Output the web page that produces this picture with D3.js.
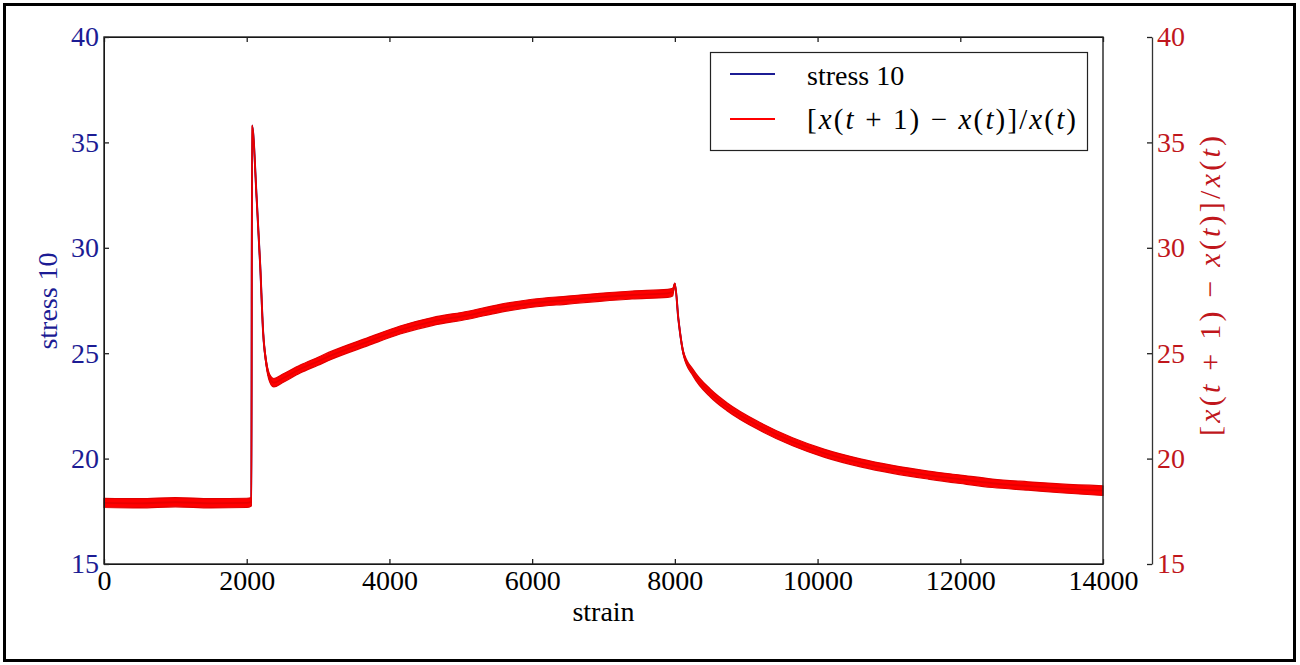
<!DOCTYPE html>
<html>
<head>
<meta charset="utf-8">
<script src="https://cdn.jsdelivr.net/npm/d3@7"></script>
<style>
  body { margin: 0; background: #fff; }
  svg { display: block; }
  text { font-family: "Liberation Serif", "Times New Roman", serif; }
</style>
</head>
<body>
<div id="chart"></div>
<script>
// values (band centre of the noisy trace)
const strain = [0, 500, 1000, 1500, 2000, 2065, 2075, 2140, 2190, 2230, 2280, 2340, 2380, 2500,
  2750, 3000, 3200, 3700, 4150, 4600, 5100, 5550, 6000, 6500, 6950, 7400, 7900, 7970, 8000,
  8050, 8120, 8260, 8500, 8730, 9200, 9650, 10100, 10600, 11050, 11550, 12000, 12450, 12950,
  13400, 14000];
const stress = [17.9, 17.88, 17.93, 17.88, 17.9, 17.95, 35.8, 32.3, 29.1, 26.0, 24.4, 23.7, 23.6, 23.8,
  24.25, 24.62, 24.92, 25.55, 26.1, 26.5, 26.8, 27.13, 27.37, 27.52, 27.65, 27.76, 27.84, 27.9, 28.3,
  26.6, 25.0, 24.05, 23.1, 22.46, 21.51, 20.8, 20.25, 19.8, 19.49, 19.22, 19.02, 18.83, 18.7,
  18.59, 18.48];
// half thickness of the noise band
const bandHalf = [0.22, 0.22, 0.22, 0.22, 0.22, 0.2, 0.02, 0.05, 0.08, 0.12, 0.16, 0.19, 0.2, 0.2,
  0.19, 0.19, 0.19, 0.19, 0.19, 0.19, 0.19, 0.19, 0.19, 0.19, 0.19, 0.19, 0.19, 0.18, 0.03,
  0.05, 0.1, 0.16, 0.19, 0.19, 0.19, 0.19, 0.19, 0.19, 0.19, 0.19, 0.2, 0.2, 0.2,
  0.21, 0.23];

const xTicks = [0, 2000, 4000, 6000, 8000, 10000, 12000, 14000];
const yTicks = [15, 20, 25, 30, 35, 40];

const width = 1300, height = 665;
const m = { left: 104, right: 1103, top: 37, bottom: 564 };
const rightAxisX = 1152;

const blue = "#1c1c94", red = "#ff0000", redText = "#c0161c";

const svg = d3.select("#chart").append("svg")
  .attr("width", width)
  .attr("height", height);

// outer frame
svg.append("rect")
  .attr("x", 4.5).attr("y", 4.5)
  .attr("width", 1290).attr("height", 656)
  .attr("fill", "none")
  .attr("stroke", "#000")
  .attr("stroke-width", 3);

const x = d3.scaleLinear().domain([0, 14000]).range([m.left, m.right]);
const y = d3.scaleLinear().domain([15, 40]).range([m.bottom, m.top]);

const data = strain.map((s, i) => ({ s: s, v: stress[i], h: bandHalf[i] }));
const curve = d3.curveMonotoneX;

// blue series sits underneath the red one
svg.append("path")
  .datum(data)
  .attr("fill", "none")
  .attr("stroke", blue)
  .attr("stroke-width", 2)
  .attr("d", d3.line().curve(curve).x(d => x(d.s)).y(d => y(d.v)));

svg.append("path")
  .datum(data)
  .attr("fill", red)
  .attr("stroke", "#e00000")
  .attr("stroke-width", 1.2)
  .attr("stroke-linejoin", "round")
  .attr("d", d3.area().curve(curve).x(d => x(d.s)).y0(d => y(d.v - d.h)).y1(d => y(d.v + d.h)));

svg.append("path")
  .datum(data)
  .attr("fill", "none")
  .attr("stroke", "#e80000")
  .attr("stroke-width", 1.8)
  .attr("d", d3.line().curve(curve).x(d => x(d.s)).y(d => y(d.v)));

// axes
const fs = 28;
const bottom = svg.append("g")
  .attr("transform", `translate(0,${m.bottom})`)
  .call(d3.axisBottom(x).tickValues(xTicks).tickSize(-5).tickSizeOuter(0).tickPadding(6).tickFormat(d3.format("d")));
bottom.selectAll("text").attr("fill", "#000");

svg.append("g")
  .attr("transform", `translate(0,${m.top})`)
  .call(d3.axisTop(x).tickValues(xTicks).tickSize(-5).tickSizeOuter(0).tickFormat(""));

const left = svg.append("g")
  .attr("transform", `translate(${m.left},0)`)
  .call(d3.axisLeft(y).tickValues(yTicks).tickSize(-5).tickSizeOuter(0).tickPadding(5));
left.selectAll("text").attr("fill", blue);

const right = svg.append("g")
  .attr("transform", `translate(${rightAxisX},0)`)
  .call(d3.axisRight(y).tickValues(yTicks).tickSize(-5).tickSizeOuter(0).tickPadding(5));
right.selectAll("text").attr("fill", redText);
right.select(".domain").attr("stroke", "#333").attr("stroke-width", 1.3);

svg.selectAll(".tick text")
  .style("font-family", '"Liberation Serif", serif')
  .style("font-size", fs + "px");
svg.selectAll(".tick line").attr("stroke", "#222").attr("stroke-width", 1.3);

// plot frame
svg.append("rect")
  .attr("x", m.left).attr("y", m.top)
  .attr("width", m.right - m.left).attr("height", m.bottom - m.top)
  .attr("fill", "none")
  .attr("stroke", "#222")
  .attr("stroke-width", 1.4);

// axis labels
svg.append("text")
  .attr("x", (m.left + m.right) / 2).attr("y", 621)
  .attr("text-anchor", "middle")
  .style("font-size", fs + "px")
  .text("strain");

svg.append("text")
  .attr("transform", "translate(57,301) rotate(-90)")
  .attr("text-anchor", "middle")
  .attr("fill", blue)
  .style("font-size", fs + "px")
  .text("stress 10");

// [x(t+1) - x(t)]/x(t) with italic variables
function mathLabel(sel) {
  const parts = [["[", 0], ["x", 1], ["(", 0], ["t", 1], ["\u2005+\u20051)\u2005\u2212\u2005", 0], ["x", 1], ["(", 0],
    ["t", 1], [")]/", 0], ["x", 1], ["(", 0], ["t", 1], [")", 0]];
  parts.forEach(p => {
    sel.append("tspan")
      .style("font-style", p[1] ? "italic" : "normal")
      .text(p[0]);
  });
}

const rl = svg.append("text")
  .attr("transform", "translate(1220,286) rotate(-90)")
  .attr("text-anchor", "middle")
  .attr("fill", redText)
  .attr("textLength", 300)
  .attr("lengthAdjust", "spacing")
  .style("font-size", "30px");
mathLabel(rl);

// legend
const lg = svg.append("g");
lg.append("rect")
  .attr("x", 710.5).attr("y", 52.5)
  .attr("width", 377).attr("height", 98)
  .attr("fill", "#fff")
  .attr("stroke", "#222")
  .attr("stroke-width", 1.2);
[[blue, 74], [red, 119]].forEach(r => {
  lg.append("line")
    .attr("x1", 730).attr("x2", 775)
    .attr("y1", r[1]).attr("y2", r[1])
    .attr("stroke", r[0])
    .attr("stroke-width", 2);
});
lg.append("text")
  .attr("x", 807).attr("y", 85)
  .style("font-size", fs + "px")
  .text("stress 10");
const lt = lg.append("text")
  .attr("x", 807).attr("y", 129)
  .attr("textLength", 269)
  .attr("lengthAdjust", "spacing")
  .style("font-size", "29px");
mathLabel(lt);
</script>
</body>
</html>
